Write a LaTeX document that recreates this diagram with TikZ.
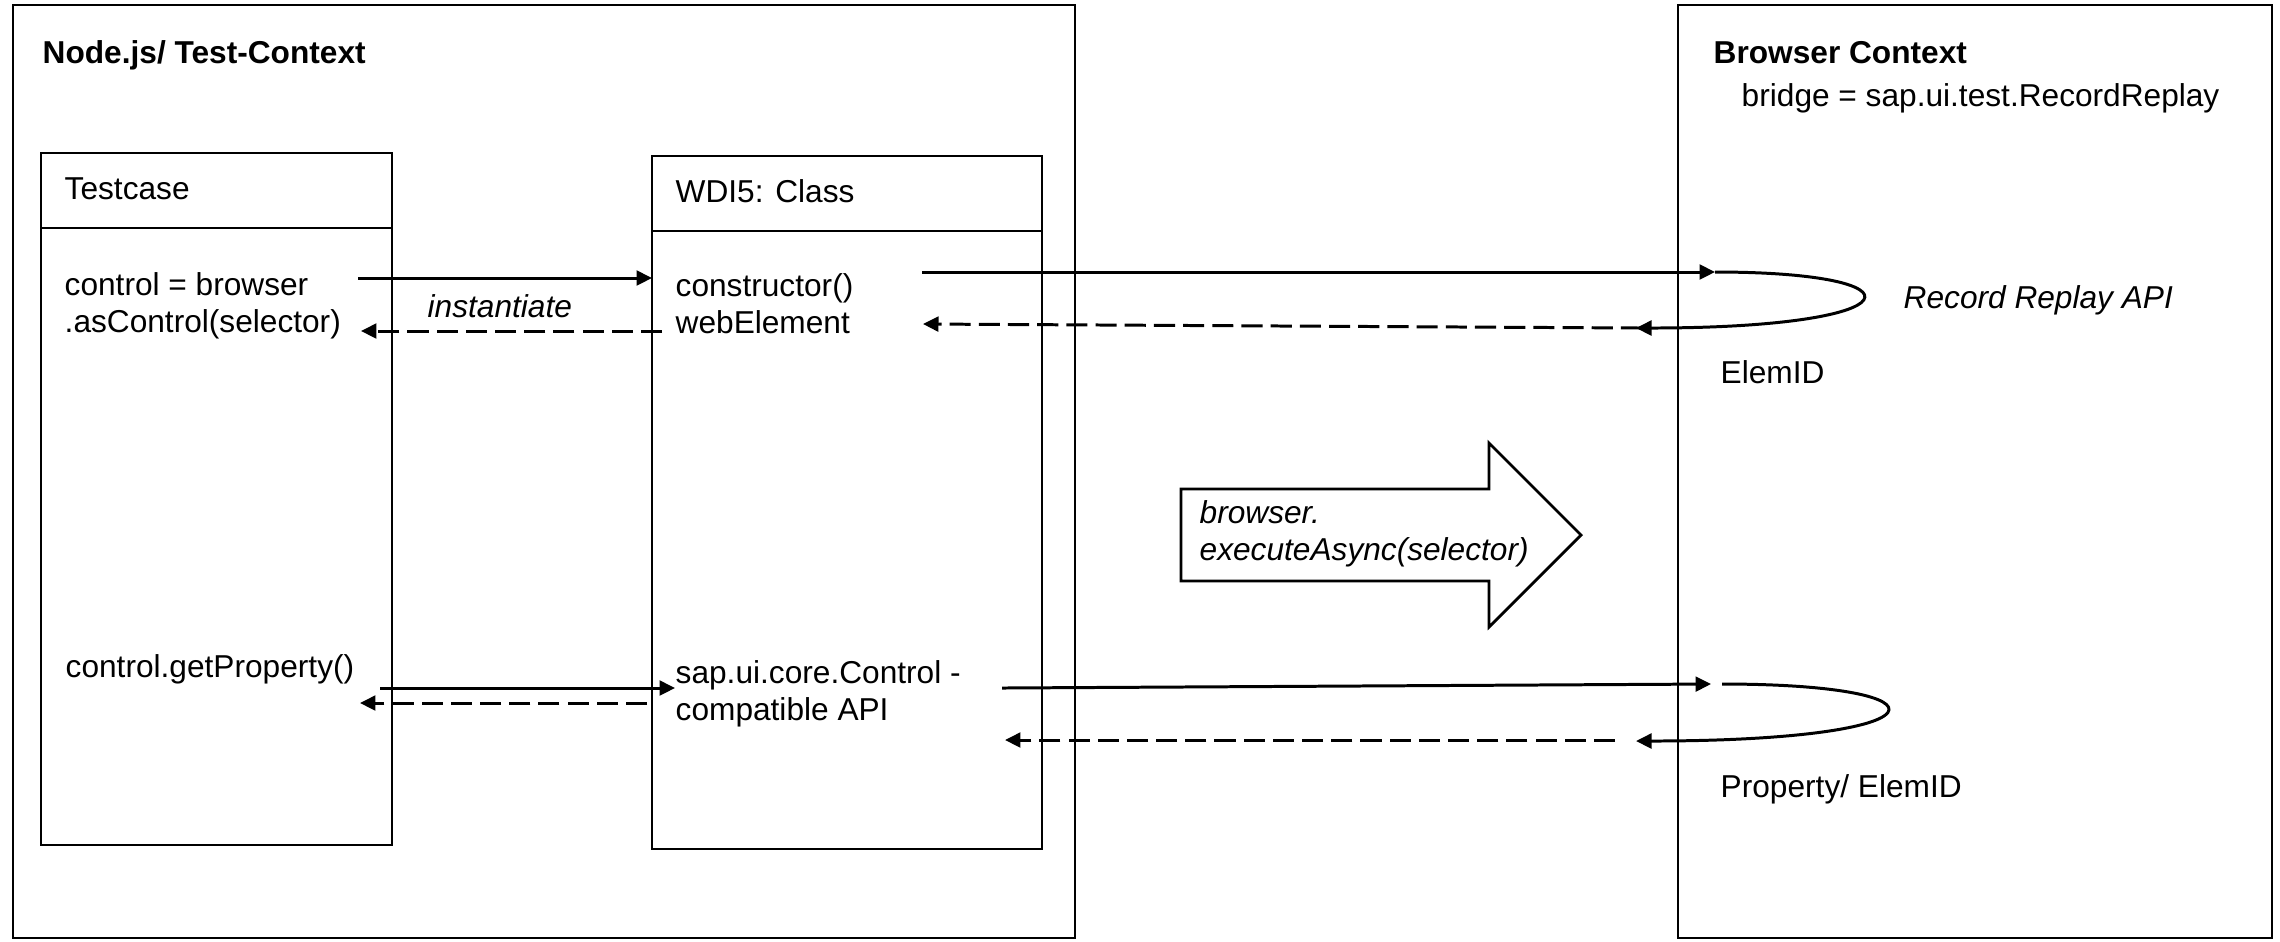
\documentclass[tikz,border=0pt]{standalone}
\usepackage{fontspec}
\setmainfont{Liberation Sans}
\usetikzlibrary{arrows.meta}

\tikzset{
  rahmen/.style={draw, line width=0.8pt},
  txt/.style={anchor=base west, inner sep=0pt, align=left, font=\fontsize{9}{10.3}\selectfont},
  titel/.style={txt, font=\fontsize{9}{10.3}\selectfont\bfseries},
  kursiv/.style={txt, font=\fontsize{9}{10.3}\selectfont\itshape},
  ruf/.style={line width=0.85pt, -{Triangle[length=4.4pt,width=4.2pt]}},
  antwort/.style={ruf, dash pattern=on 6pt off 2.3pt},
}

\begin{document}
\begin{tikzpicture}[x=0.01cm, y=-0.01cm]
  \useasboundingbox (0,0) rectangle (2280,941);

  % Kontexte
  \draw[rahmen] (13,5) rectangle (1075,938);
  \draw[rahmen] (1678,5) rectangle (2272,938);
  \node[titel] (nodectx) at (42,63) {Node.js/ Test-Context};
  \node[titel] (browserctx) at (1713,63) {Browser Context};
  \node[txt] (bridge) at (1741,106) {bridge = sap.ui.test.RecordReplay};

  % Klassen (Kasten mit Kopfzeile)
  \foreach \xa/\ya/\xb/\yb/\yk in {41/153/392/845/228, 652/156/1042/849/231} {
    \draw[rahmen] (\xa,\ya) rectangle (\xb,\yb);
    \draw[rahmen] (\xa,\yk) -- (\xb,\yk); % Kopfzeile
  }
  \node[txt] (testcase) at (64,199) {Testcase};
  \node[txt] (wdi) at (675,202) {WDI5: Class};

  % Texte in den Klassen (Anker = letzte Zeile)
  \node[txt] (asctl) at (64,332) {control = browser\\.asControl(selector)};
  \node[txt] (ctor) at (675,333) {constructor()\\webElement};
  \node[kursiv] (inst) at (427,317) {instantiate};
  \node[txt] (getprop) at (65,677) {control.getProperty()};
  \node[txt] (ctlapi) at (675,720) {sap.ui.core.Control -\\compatible API};

  % Browser-Seite
  \node[kursiv] (rrapi) at (1903,308) {Record Replay API};
  \node[txt] (elemid) at (1720,383) {ElemID};
  \node[txt] (propid) at (1720,797) {Property/ ElemID};

  % grosser Pfeil
  \draw[rahmen, line join=miter] (1181,489) -- (1489,489) -- (1489,443) -- (1581,535)
    -- (1489,627) -- (1489,581) -- (1181,581) -- cycle;
  \node[kursiv] (exec) at (1199,560) {browser.\\executeAsync(selector)};

  % Anschlusspunkte
  \coordinate (c1) at (358,278);  \coordinate (w1) at (652,278);
  \coordinate (w2) at (662,331);  \coordinate (c2) at (361,331);
  \coordinate (w3) at (922,272);  \coordinate (b1) at (1715,272);
  \coordinate (b2) at (1636,328); \coordinate (b2a) at (1642,328);
  \coordinate (w4) at (923,324);
  \coordinate (c3) at (380,688);  \coordinate (w5) at (675,688);
  \coordinate (w6) at (647,703);  \coordinate (c4) at (360,703);
  \coordinate (w7) at (1002,688); \coordinate (b3) at (1711,684);
  \coordinate (b4) at (1722,684); \coordinate (b5) at (1636,741);
  \coordinate (b6) at (1615,740); \coordinate (w8) at (1005,740);

  % Aufruf asControl
  \draw[ruf] (c1) -- (w1);
  \draw[antwort] (w2) -- (c2);
  \draw[ruf] (w3) -- (b1);
  \draw[ruf] (b1) .. controls (1930,272) and (1918,328) .. (b2);
  \draw[antwort] (b2a) -- (w4);

  % Aufruf getProperty
  \draw[ruf] (c3) -- (w5);
  \draw[antwort] (w6) -- (c4);
  \draw[ruf] (w7) -- (b3);
  \draw[ruf] (b4) .. controls (1960,684) and (1950,741) .. (b5);
  \draw[antwort] (b6) -- (w8);
\end{tikzpicture}
\end{document}
